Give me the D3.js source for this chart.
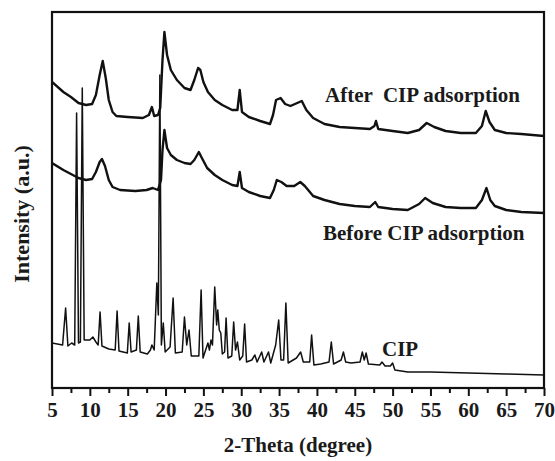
<!DOCTYPE html>
<html>
<head>
<meta charset="utf-8">
<script src="https://cdn.jsdelivr.net/npm/d3@7"></script>
<style>
  body { margin: 0; background: #fff; }
  text { font-family: "Liberation Serif", "Times New Roman", serif; font-weight: bold; fill: #1a1a1a; }
</style>
</head>
<body>
<div id="graph-container"></div>
<script>
// XRD patterns, [2-theta, intensity (a.u.)]
var afterCip = [
  [5, 306], [6.5, 296], [7.5, 291], [8.5, 285], [9.5, 283], [10.3, 284], [10.8, 293],
  [11.3, 313], [11.7, 327], [12.1, 310], [12.5, 288], [13, 276], [13.5, 272], [15, 271],
  [17, 270], [17.8, 273], [18.2, 281], [18.5, 272], [19, 273], [19.3, 280], [19.6, 328],
  [19.85, 356], [20.2, 333], [20.7, 318], [21.5, 308], [22.5, 300], [23.3, 298], [23.8, 308],
  [24.3, 320], [24.6, 318], [25, 306], [25.6, 296], [26.5, 288], [27.5, 283], [28.8, 278],
  [29.5, 278], [29.8, 298], [30.1, 276], [31, 271], [32.5, 267], [33.8, 264], [34.2, 273],
  [34.6, 288], [35.2, 290], [35.8, 284], [36.5, 282], [37.4, 285], [38, 287], [38.6, 278],
  [39.5, 270], [41, 264], [43, 261], [45, 260], [47, 259], [47.6, 262], [47.8, 267],
  [48.1, 259], [50, 257], [52, 255], [53.5, 258], [54.5, 265], [55.5, 261], [57, 257],
  [59, 255], [61, 255], [61.8, 262], [62.3, 277], [62.8, 266], [63.5, 258], [65, 255],
  [67, 254], [70, 252]
];

var beforeCip = [
  [5, 225], [6.5, 218], [7.5, 214], [8.5, 210], [9.5, 208], [10.3, 209], [10.8, 216],
  [11.3, 226], [11.6, 229], [12, 222], [12.5, 208], [13, 201], [14, 198], [16, 197],
  [17.5, 198], [18.3, 200], [19, 198], [19.4, 208], [19.6, 238], [19.85, 258], [20.2, 240],
  [20.7, 233], [21.5, 228], [22.5, 225], [23.3, 224], [23.8, 228], [24.4, 236], [24.8, 230],
  [25.5, 220], [26.5, 213], [27.5, 208], [28.8, 203], [29.5, 202], [29.8, 216], [30.1, 200],
  [31, 196], [32.5, 192], [33.8, 190], [34.3, 198], [34.7, 208], [35.3, 206], [36, 202],
  [37, 202], [37.8, 206], [38.4, 202], [39.5, 192], [41, 188], [43, 184], [45, 182],
  [47, 181], [47.7, 186], [48.1, 181], [50, 179], [52, 178], [53.5, 184], [54.3, 190],
  [55.3, 185], [57, 181], [59, 180], [61, 180], [61.8, 188], [62.4, 200], [62.9, 188],
  [63.5, 182], [65, 178], [67, 176], [70, 175]
];

var cip = [
  [5, 45], [6.4, 43], [6.8, 80], [7.1, 42], [7.6, 45], [8, 43], [8.25, 275], [8.5, 45],
  [8.75, 46], [9, 300], [9.25, 48], [10, 48], [10.4, 51], [10.8, 46], [11.1, 43], [11.35, 76],
  [11.6, 42], [12.5, 39], [13.35, 38], [13.6, 77], [13.85, 37], [14.95, 35], [15.2, 65],
  [15.45, 36], [16.15, 38], [16.4, 72], [16.65, 36], [17.6, 34], [18, 38], [18.2, 43],
  [18.5, 38], [18.85, 105], [19.05, 73], [19.25, 313], [19.45, 43], [19.7, 65], [19.95, 36],
  [20.6, 41], [21, 90], [21.3, 35], [22.2, 36], [22.5, 71], [22.8, 43], [23.1, 58],
  [23.4, 32], [24.4, 32], [24.7, 98], [24.95, 30], [25.6, 45], [25.8, 38], [26, 48],
  [26.2, 43], [26.5, 101], [26.75, 63], [26.9, 78], [27.1, 58], [27.3, 55], [27.5, 34],
  [27.8, 36], [28, 70], [28.25, 30], [28.75, 32], [29, 66], [29.25, 38], [29.5, 46],
  [29.8, 28], [30.2, 32], [30.45, 64], [30.7, 26], [31.4, 28], [31.8, 33], [32.1, 26],
  [32.7, 36], [33, 26], [33.6, 36], [33.9, 25], [34.55, 43], [34.95, 68], [35.25, 28],
  [35.6, 28], [35.9, 85], [36.2, 25], [37.3, 30], [37.85, 36], [38.2, 26], [39.05, 26],
  [39.3, 53], [39.6, 23], [40.5, 24], [41.6, 26], [41.9, 46], [42.2, 24], [43.2, 28],
  [43.5, 36], [43.8, 26], [44.5, 25], [45.7, 26], [46, 36], [46.25, 28], [46.5, 35],
  [46.8, 24], [48.3, 23], [48.6, 26], [49, 22], [49.7, 22], [50, 25], [50.3, 18],
  [52, 16], [55, 16], [60, 15], [65, 14], [70, 13]
];

var majorTicks = [5, 10, 15, 20, 25, 30, 35, 40, 45, 50, 55, 60, 65, 70];
var minorTicks = [7.5, 12.5, 17.5, 22.5, 27.5, 32.5, 37.5, 42.5, 47.5, 52.5, 57.5, 62.5, 67.5];

var labels = [
  { text: "After  CIP adsorption", x: 325, y: 102 },
  { text: "Before CIP adsorption", x: 323, y: 240 },
  { text: "CIP", x: 382, y: 356 }
];

window.onload = function() {
  var w = 555, h = 461;
  var left = 52, right = 544, top = 12, bottom = 388;

  var svg = d3.select("#graph-container")
    .append("svg")
    .attr("width", w)
    .attr("height", h);

  var x = d3.scaleLinear().domain([5, 70]).range([left, right]);
  var y = d3.scaleLinear().domain([0, 376]).range([bottom, top]);

  svg.append("clipPath").attr("id", "plot-clip")
    .append("rect")
    .attr("x", left).attr("y", top)
    .attr("width", right - left).attr("height", bottom - top);

  var line = d3.line()
    .x(function(d) { return x(d[0]); })
    .y(function(d) { return y(d[1]); });

  // the three patterns, thicker for the noisy clay ones
  [[afterCip, 2.4], [beforeCip, 2.4], [cip, 1.5]].forEach(function(s) {
    svg.append("path")
      .datum(s[0])
      .attr("clip-path", "url(#plot-clip)")
      .attr("fill", "none")
      .attr("stroke", "#111")
      .attr("stroke-width", s[1])
      .attr("stroke-linejoin", "round")
      .attr("d", line);
  });

  // minor ticks, no labels
  svg.append("g")
    .attr("transform", "translate(0," + bottom + ")")
    .call(d3.axisBottom(x).tickValues(minorTicks).tickSize(5).tickFormat(""))
    .call(function(g) { g.select(".domain").remove(); })
    .selectAll("line").attr("stroke", "#111").attr("stroke-width", 2);

  var xAxis = svg.append("g")
    .attr("transform", "translate(0," + bottom + ")")
    .call(d3.axisBottom(x).tickValues(majorTicks).tickSize(8).tickPadding(6).tickFormat(d3.format("d")));
  xAxis.select(".domain").remove();
  xAxis.selectAll("line").attr("stroke", "#111").attr("stroke-width", 2);
  xAxis.selectAll("text")
    .attr("fill", "#1a1a1a")
    .style("font-size", "21px");

  // frame around the plot
  svg.append("rect")
    .attr("x", left).attr("y", top)
    .attr("width", right - left).attr("height", bottom - top)
    .attr("fill", "none")
    .attr("stroke", "#111")
    .attr("stroke-width", 2.2);

  svg.append("text")
    .attr("x", (left + right) / 2)
    .attr("y", 452)
    .attr("text-anchor", "middle")
    .style("font-size", "21px")
    .text("2-Theta (degree)");

  svg.append("text")
    .attr("transform", "translate(29,214) rotate(-90)")
    .attr("text-anchor", "middle")
    .style("font-size", "22px")
    .text("Intensity (a.u.)");

  labels.forEach(function(d) {
    svg.append("text")
      .attr("x", d.x)
      .attr("y", d.y)
      .style("font-size", "21px")
      .style("white-space", "pre")
      .text(d.text);
  });
};
</script>
</body>
</html>
